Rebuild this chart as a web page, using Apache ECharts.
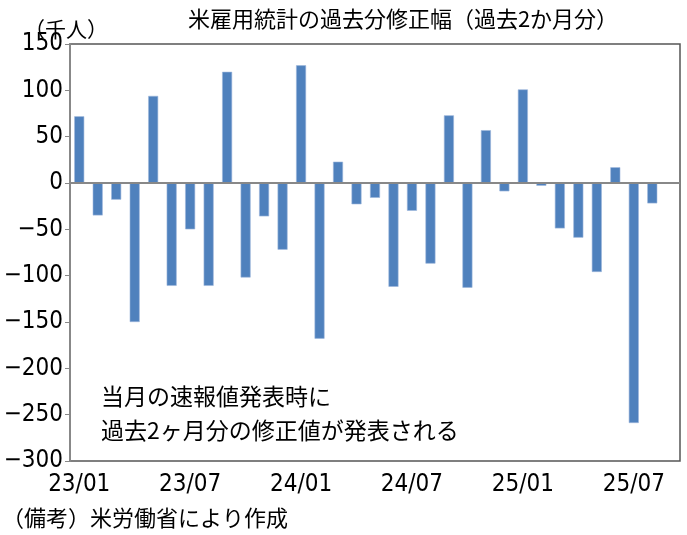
<!DOCTYPE html>
<html>
<head>
<meta charset="utf-8">
<script src="https://cdn.jsdelivr.net/npm/echarts@6/dist/echarts.min.js"></script>
<style>
  html, body { margin: 0; padding: 0; background: #fff; }
  #revChart { width: 687px; height: 535px; }
</style>
</head>
<body>
<div id="revChart"></div>
<script>
// months 23/01 .. 25/09 (last slot is empty, as in the original)
const months = ['23/01','23/02','23/03','23/04','23/05','23/06','23/07','23/08','23/09','23/10','23/11','23/12',
                '24/01','24/02','24/03','24/04','24/05','24/06','24/07','24/08','24/09','24/10','24/11','24/12',
                '25/01','25/02','25/03','25/04','25/05','25/06','25/07','25/08','25/09'];
// revision of the previous two months, thousand persons
const revisions = [72, -35, -18, -150, 94, -111, -50, -111, 120, -102, -36, -72,
                   127, -168, 23, -23, -16, -112, -30, -87, 73, -113, 57, -9,
                   101, -3, -49, -59, -96, 17, -259, -22, null];
const yTicks = {min: -300, max: 150, step: 50};

const jp = "'Noto Sans CJK JP', sans-serif";
const narrow = "'Liberation Sans Narrow', 'DejaVu Sans Condensed', sans-serif";

const revChart = echarts.init(document.getElementById('revChart'));

revChart.setOption({
  animation: false,
  title: {
    text: '米雇用統計の過去分修正幅（過去2か月分）',
    left: 398, top: 3, textAlign: 'center',
    textStyle: {fontFamily: jp, fontWeight: 'normal', fontSize: 22, color: '#000'}
  },
  grid: {
    left: 70, right: 7, top: 44, bottom: 74,
    show: true, borderColor: '#555', borderWidth: 1.5, backgroundColor: 'transparent'
  },
  xAxis: {
    type: 'category',
    data: months,
    position: 'bottom',
    axisLine: {show: false, onZero: false},
    axisTick: {show: false},
    axisLabel: {
      interval: 5, margin: 12,
      fontFamily: narrow, fontSize: 24, color: '#000'
    }
  },
  yAxis: {
    type: 'value',
    min: yTicks.min, max: yTicks.max, interval: yTicks.step,
    splitLine: {show: false},
    axisLine: {show: true, lineStyle: {color: '#888', width: 2}},
    axisTick: {show: true, length: 5, lineStyle: {color: '#888'}},
    axisLabel: {
      margin: 7,
      fontFamily: narrow, fontSize: 24, color: '#000',
      formatter: (v) => String(v).replace('-', '\u2212')
    }
  },
  series: [{
    type: 'bar',
    data: revisions,
    barWidth: 10,
    itemStyle: {color: '#4F81BD', borderColor: '#9DB7DB', borderWidth: 0.6},
    markLine: {
      silent: true,
      symbol: ['none', 'none'],
      label: {show: false},
      lineStyle: {color: '#888', width: 2, type: 'solid'},
      data: [{yAxis: 0}]
    }
  }],
  graphic: [
    {type: 'text', left: 24, top: 19,
     style: {text: '（千人）', font: '21px ' + jp, fill: '#000'}},
    {type: 'text', left: 101, top: 379,
     style: {text: '当月の速報値発表時に\n過去2ヶ月分の修正値が発表される', font: '23px ' + jp, lineHeight: 34, fill: '#000'}},
    {type: 'text', left: 2, top: 507,
     style: {text: '（備考）米労働省により作成', font: '22px ' + jp, fill: '#000'}}
  ]
});
</script>
</body>
</html>
